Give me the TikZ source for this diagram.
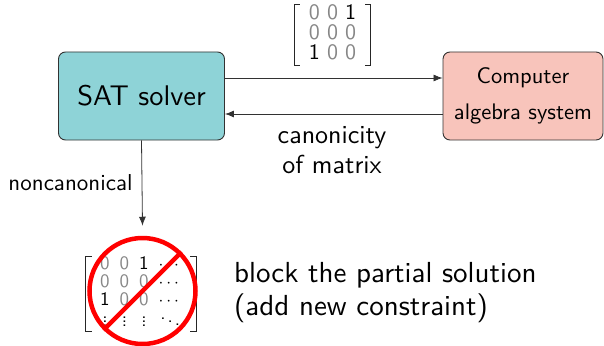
\documentclass[tikz,border=0pt]{standalone}
\usepackage{fontspec}
\usepackage{amsmath}
\setsansfont{lmsans10-regular.otf}
\usetikzlibrary{arrows.meta}
\definecolor{satfill}{RGB}{142,211,215}
\definecolor{casfill}{RGB}{248,196,187}
\definecolor{edgegray}{RGB}{50,50,50}
\definecolor{zerogray}{RGB}{135,135,135}
\newcommand{\gz}{\textcolor{zerogray}{0}}
\tikzset{
  procbox/.style={draw=edgegray, line width=0.9pt, rounded corners=7pt, inner sep=0pt, font=\sffamily},
  flow/.style={draw=edgegray, line width=0.8pt, -{Latex[length=9pt,width=7pt]}},
  lbl/.style={font=\sffamily, inner sep=0pt},
  brk/.style={draw=black!85, line width=0.9pt},
}
\begin{document}
\begin{tikzpicture}[x=1pt,y=1pt]
\useasboundingbox (0,0) rectangle (604,-345);
% boxes
\node[procbox, fill=satfill, minimum width=166pt, minimum height=88pt,
      font=\sffamily\fontsize{28.4}{30}\selectfont] (sat) at (141.5,-96) {SAT solver};
\node[procbox, fill=casfill, minimum width=160pt, minimum height=88pt, align=center,
      font=\sffamily\fontsize{22.5}{36}\selectfont] (cas) at (523,-96) {Computer\\algebra system};
% arrows between boxes
\draw[flow] ([yshift=18pt]sat.east) -- ([yshift=18pt]cas.west);
\draw[flow] ([yshift=-18pt]cas.west) -- ([yshift=-18pt]sat.east);
% top matrix
\node[lbl, minimum width=75pt, minimum height=52pt] (topm) at (332.5,-35) {\sffamily\fontsize{22}{17}\selectfont
  \setlength\tabcolsep{3.6pt}\begin{tabular}{@{}ccc@{}}\gz&\gz&1\\\gz&\gz&\gz\\1&\gz&\gz\end{tabular}};
\draw[brk] ([xshift=5pt]topm.north west) -- (topm.north west) -- (topm.south west) -- ([xshift=5pt]topm.south west);
\draw[brk] ([xshift=-5pt]topm.north east) -- (topm.north east) -- (topm.south east) -- ([xshift=-5pt]topm.south east);
% canonicity label
\node[lbl, align=center, font=\sffamily\fontsize{26}{30}\selectfont] (canon) at (332,-150) {canonicity\\of matrix};
% bottom blocked matrix
\node[lbl, minimum width=110pt, minimum height=70pt] (botm) at (141,-294) {\sffamily\fontsize{19}{17.5}\selectfont
  \setlength\tabcolsep{5pt}\begin{tabular}{@{}cccc@{}}\gz&\gz&1&$\cdots$\\\gz&\gz&\gz&$\cdots$\\1&\gz&\gz&$\cdots$\\$\vdots$&$\vdots$&$\vdots$&$\ddots$\end{tabular}};
\draw[brk] ([xshift=6pt]botm.north west) -- (botm.north west) -- (botm.south west) -- ([xshift=6pt]botm.south west);
\draw[brk] ([xshift=-6pt]botm.north east) -- (botm.north east) -- (botm.south east) -- ([xshift=-6pt]botm.south east);
\node[draw=red, line width=4.5pt, circle, minimum size=106pt, inner sep=0pt] (nosign) at (142.5,-291) {};
\draw[red, line width=4.5pt] (nosign.45) -- (nosign.225);
% down arrow
\draw[flow] (sat.south) -- node[lbl, left=9pt, font=\sffamily\fontsize{23}{25}\selectfont] (noncan) {noncanonical} ([yshift=10pt]nosign.north);
% block text
\node[lbl, anchor=west, align=left, font=\sffamily\fontsize{29}{33}\selectfont] (block) at (234,-293) {block the partial solution\\(add new constraint)};
\end{tikzpicture}
\end{document}
